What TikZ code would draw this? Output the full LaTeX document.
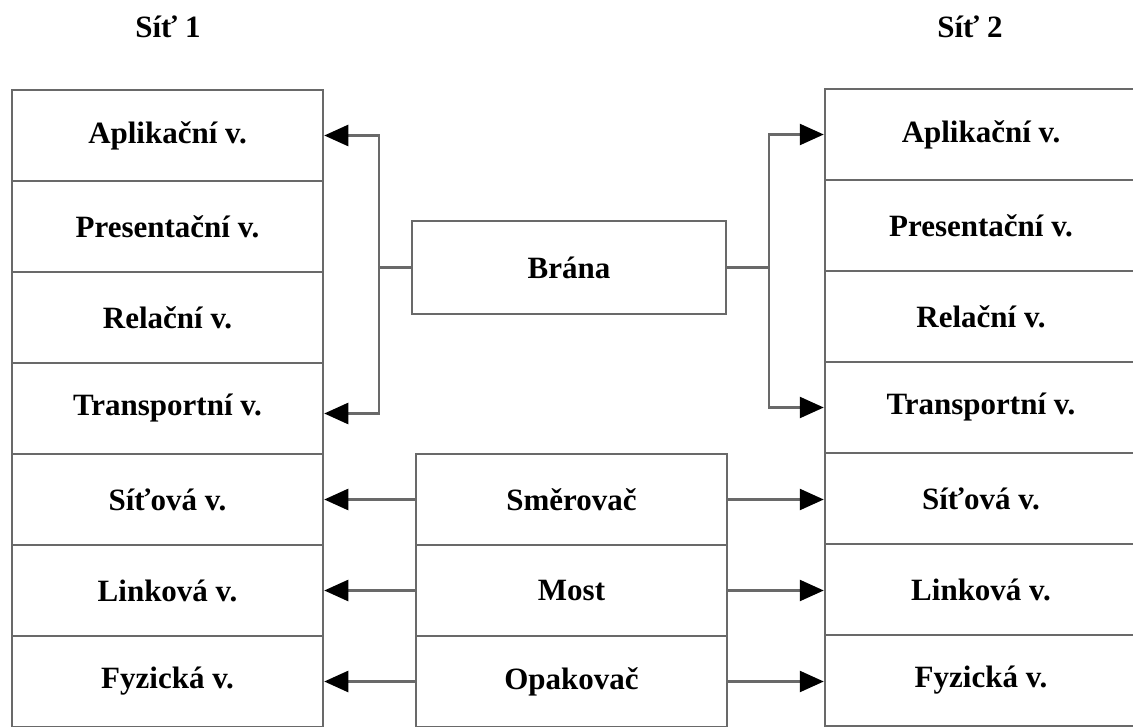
\documentclass[tikz,border=0pt]{standalone}
\usepackage{fontspec}
\setmainfont{Liberation Serif}
\usetikzlibrary{arrows.meta}
\definecolor{ln}{RGB}{105,105,105}
\begin{document}
\begin{tikzpicture}[x=1pt,y=-1pt,
  layer/.style={draw=ln, line width=2.5pt, inner sep=0pt, minimum width=311pt, minimum height=91pt,
    font=\fontsize{31}{34}\selectfont\bfseries},
  rlayer/.style={layer, minimum width=312pt},
  dev/.style={layer, minimum width=311pt},
  conn/.style={draw=ln, line width=2.5pt},
  tip/.style={-{Triangle[length=24pt,width=21pt,color=black]}},
  title/.style={font=\fontsize{31}{34}\selectfont\bfseries}]
\useasboundingbox (0,0) rectangle (1133,727);
\clip (0,0) rectangle (1133,727);
% left stack
\node[layer] (l1) at (167.5,135.5) {Aplikační v.};
\node[layer] (l2) at (167.5,226.5) {Presentační v.};
\node[layer] (l3) at (167.5,317.5) {Relační v.};
\node[layer] (l4) at (167.5,408.5) {Transportní v.};
\node[layer] (l5) at (167.5,499.5) {Síťová v.};
\node[layer] (l6) at (167.5,590.5) {Linková v.};
\node[layer] (l7) at (167.5,681.5) {Fyzická v.};
% right stack
\node[rlayer] (r1) at (981,134.5) {Aplikační v.};
\node[rlayer] (r2) at (981,225.5) {Presentační v.};
\node[rlayer] (r3) at (981,316.5) {Relační v.};
\node[rlayer] (r4) at (981,407.5) {Transportní v.};
\node[rlayer] (r5) at (981,498.5) {Síťová v.};
\node[rlayer] (r6) at (981,589.5) {Linková v.};
\node[rlayer] (r7) at (981,680.5) {Fyzická v.};
% titles
\node[title] (t1) at (168,27) {Síť 1};
\node[title] (t2) at (970,27) {Síť 2};
% gateway
\node[layer, minimum width=314pt, minimum height=93pt] (br) at (569,267.5) {Brána};
% devices
\node[dev] (sm) at (571.5,499.5) {Směrovač};
\node[dev] (mo) at (571.5,590.5) {Most};
\node[dev] (op) at (571.5,681.5) {Opakovač};
% gateway connectors
\coordinate (jl) at (379,267.5);
\coordinate (jr) at (769,267.5);
\draw[conn] (br.west) -- (jl);
\draw[conn,tip] (jl) |- (l1.east);
\draw[conn,tip] (jl) |- ([yshift=-5pt]l4.east);
\draw[conn] (br.east) -- (jr);
\draw[conn,tip] (jr) |- (r1.west);
\draw[conn,tip] (jr) |- (r4.west);
% device connectors
\draw[conn,tip] (sm.west) -- (l5.east);
\draw[conn,tip] (mo.west) -- (l6.east);
\draw[conn,tip] (op.west) -- (l7.east);
\draw[conn,tip] (sm.east) -- (sm.east -| r5.west);
\draw[conn,tip] (mo.east) -- (mo.east -| r6.west);
\draw[conn,tip] (op.east) -- (op.east -| r7.west);
\end{tikzpicture}
\end{document}
